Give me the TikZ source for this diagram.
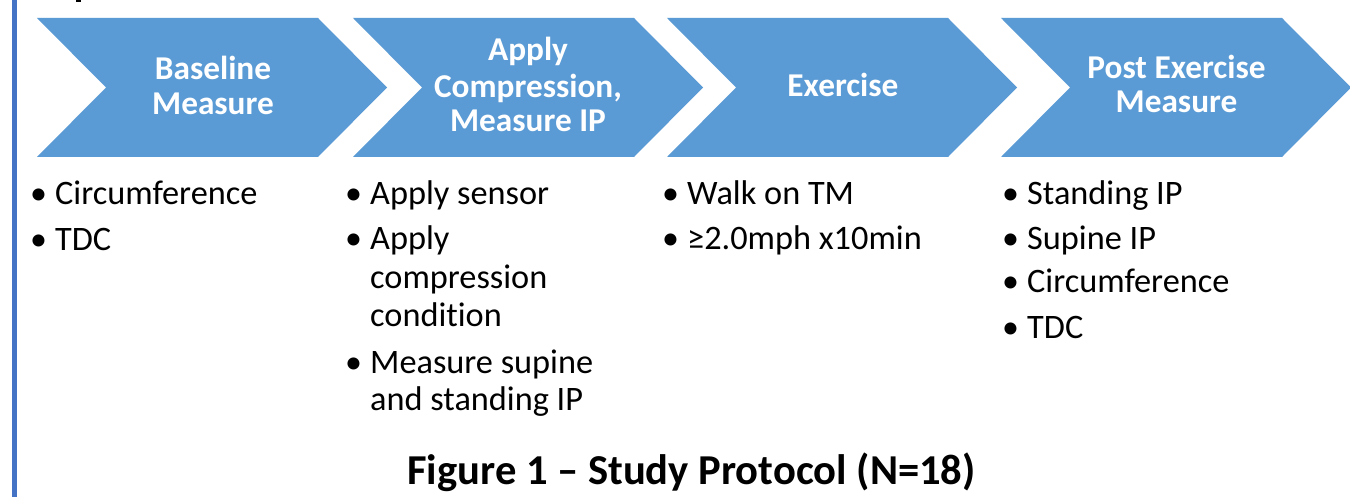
\documentclass[tikz,border=0pt]{standalone}
\usepackage{fontspec}
\setmainfont[Ligatures=NoCommon]{Carlito}
\definecolor{chev}{HTML}{5B9BD5}
\definecolor{sideline}{HTML}{4472C4}
\tikzset{
  head/.style={font=\bfseries\fontsize{33.3}{36}\selectfont, text=white, anchor=base, inner sep=0pt},
  body/.style={font=\fontsize{34.3}{38}\selectfont, text=black, anchor=base west, inner sep=0pt},
  bul/.style={font=\fontsize{34}{38}\selectfont, text=black, anchor=base west, inner sep=0pt},
  titlestyle/.style={font=\bfseries\fontsize{42.6}{46}\selectfont, text=black, anchor=base, inner sep=0pt},
  chevfill/.style={fill=chev, draw=none}
}
\newcommand{\chevshape}[1]{%
  \path[chevfill] (#1,18) -- ({#1+281},18) -- ({#1+350},87.5) -- ({#1+281},157) -- (#1,157) -- ({#1+69},87.5) -- cycle;}
\begin{document}
\begin{tikzpicture}[x=1pt,y=-1pt]
\useasboundingbox (0,0) rectangle (1350,497);
\fill[white] (0,0) rectangle (1350,497);
% side line
\draw[sideline, line width=5pt] (14.5,0) -- (14.5,497);
\fill[black] (76,0) rectangle (81,2);
% chevrons
\chevshape{37}
\chevshape{353}
\chevshape{667}
\chevshape{1001}
% header texts
\node[head] (h1a) at (213,80) {Baseline};
\node[head] (h1b) at (213,115) {Measure};
\node[head] (h2a) at (528,61) {Apply};
\node[head] (h2b) at (528,98) {Compression,};
\node[head] (h2c) at (528,132) {Measure IP};
\node[head] (h3a) at (843,97) {Exercise};
\node[head] (h4a) at (1176.5,79) {Post Exercise};
\node[head] (h4b) at (1176.5,113) {Measure};
% column 1
\node[bul] (b1a) at (30,205) {•};
\node[body] (t1a) at (55,205) {Circumference};
\node[bul] (b1b) at (30,251) {•};
\node[body] (t1b) at (55,251) {TDC};
% column 2
\node[bul] (b2a) at (345,205) {•};
\node[body] (t2a) at (370,205) {Apply sensor};
\node[bul] (b2b) at (345,250) {•};
\node[body] (t2b) at (370,250) {Apply};
\node[body] (t2c) at (370,288) {compression};
\node[body] (t2d) at (370,326) {condition};
\node[bul] (b2c) at (345,373) {•};
\node[body] (t2e) at (370,373) {Measure supine};
\node[body] (t2f) at (370,410) {and standing IP};
% column 3
\node[bul] (b3a) at (662,205) {•};
\node[body] (t3a) at (687,205) {Walk on TM};
\node[bul] (b3b) at (662,250) {•};
\node[body] (t3b) at (687,250) {≥2.0mph x10min};
% column 4
\node[bul] (b4a) at (1002,205) {•};
\node[body] (t4a) at (1027,205) {Standing IP};
\node[bul] (b4b) at (1002,250) {•};
\node[body] (t4b) at (1027,250) {Supine IP};
\node[bul] (b4c) at (1002,293) {•};
\node[body] (t4c) at (1027,293) {Circumference};
\node[bul] (b4d) at (1002,338) {•};
\node[body] (t4d) at (1027,338) {TDC};
% title
\node[titlestyle] (title) at (691.5,484) {Figure 1 – Study Protocol (N=18)};
\end{tikzpicture}
\end{document}
